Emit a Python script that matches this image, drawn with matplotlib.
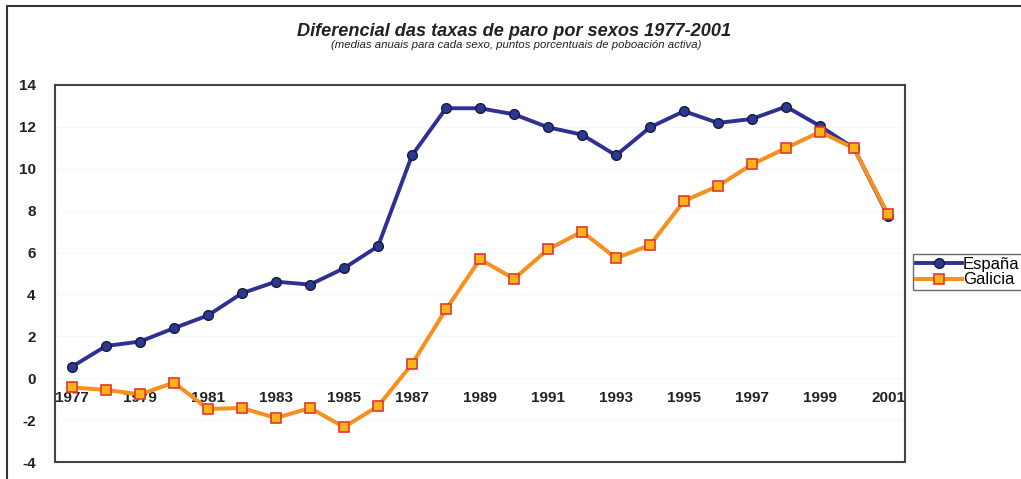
import matplotlib
matplotlib.use("Agg")
import matplotlib.pyplot as plt
from matplotlib.patches import Rectangle

years = list(range(1977, 2002))
espana = [0.55, 1.54, 1.75, 2.39, 3.0, 4.06, 4.61, 4.47, 5.25, 6.3, 10.64, 12.89,
          12.89, 12.6, 11.98, 11.63, 10.64, 11.98, 12.75, 12.19, 12.38, 12.97,
          12.04, 10.98, 7.76]
galicia = [-0.44, -0.56, -0.77, -0.21, -1.47, -1.42, -1.9, -1.42, -2.33, -1.34,
           0.68, 3.29, 5.68, 4.75, 6.15, 7.0, 5.73, 6.36, 8.46, 9.18, 10.21,
           10.99, 11.76, 10.98, 7.83]
yticks = list(range(-4, 15, 2))
xlabels = [str(y) for y in years[::2]]

title = "Diferencial das taxas de paro por sexos 1977-2001"
subtitle = "(medias anuais para cada sexo, puntos porcentuais de poboación activa)"

plt.rcParams['font.family'] = ['Liberation Sans', 'DejaVu Sans']
plt.rcParams['axes.unicode_minus'] = False

fig = plt.figure(figsize=(10.21, 4.79), dpi=100)
fig.patches.append(Rectangle((7/1021, -0.1), 1.2, 1 - 6/479 + 0.1, transform=fig.transFigure,
                             fill=False, edgecolor='#333333', linewidth=1.5))

ax = fig.add_axes([55/1021, 1 - 462/479, 850/1021, 377/479])
ax.plot(years, espana, color='#2E3192', linewidth=2.8, marker='o', markersize=7,
        markerfacecolor='#2B3990', markeredgecolor='#1A1A40', markeredgewidth=1.0,
        label='España', zorder=3)
ax.plot(years, galicia, color='#F7901E', linewidth=2.9, marker='s', markersize=6.6,
        markerfacecolor='#FBB31A', markeredgecolor='#E2382B', markeredgewidth=1.2,
        label='Galicia', zorder=4)

ax.set_xlim(1976.5, 2001.5)
ax.set_ylim(-4, 14)
ax.set_yticks(yticks)
ax.set_yticklabels([str(v) for v in yticks])
ax.tick_params(axis='y', length=0, pad=14, labelsize=11, colors='#222222')
for lbl in ax.get_yticklabels():
    lbl.set_fontweight('bold')
ax.set_xticks([])
for y in yticks:
    ax.axhline(y, color='#E6E6E6', linewidth=0.6, linestyle=(0, (1, 2)), zorder=1)
for s in ax.spines.values():
    s.set_color('#444444')
    s.set_linewidth(1.5)

sec = ax.secondary_xaxis(4/18)
sec.set_xticks(years[::2])
sec.set_xticklabels(xlabels)
sec.tick_params(length=0, pad=9, labelsize=11, colors='#222222')
for lbl in sec.get_xticklabels():
    lbl.set_fontweight('bold')
sec.spines['bottom'].set_visible(False)

fig.text(514/1021, 1 - 36.5/479, title, ha='center', va='baseline', fontsize=13.1,
         fontweight='bold', fontstyle='italic', color='#222222')
fig.text(516/1021, 1 - 47.5/479, subtitle, ha='center', va='baseline', fontsize=8.2,
         fontstyle='italic', color='#222222')

leg = fig.legend(loc='upper left', bbox_to_anchor=(913/1021, 1 - 254/479),
                 frameon=True, fancybox=False, fontsize=12, handlelength=2.8,
                 handletextpad=0.05, borderpad=0.15, labelspacing=0.05, borderaxespad=0)
leg.get_frame().set_edgecolor('#444444')
leg.get_frame().set_linewidth(1.0)

fig.savefig('out.png', dpi=100)
